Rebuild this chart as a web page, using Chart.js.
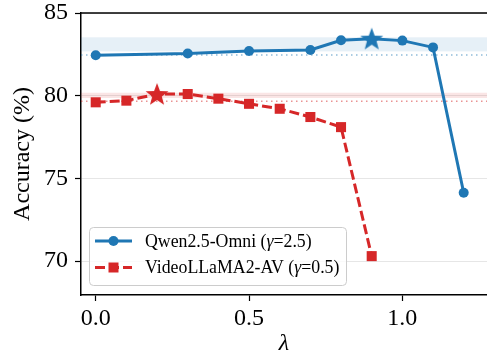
<!DOCTYPE html>
<html>
<head>
<meta charset="utf-8">
<script src="https://cdn.jsdelivr.net/npm/chart.js@4.4.1/dist/chart.umd.min.js"></script>
<style>
  html, body { margin: 0; padding: 0; background: #fff; }
  #wrap { width: 487px; height: 358px; position: relative; }
</style>
</head>
<body>
<div id="wrap"><canvas id="accChart"></canvas></div>
<script>
// --- Data ---
const lambdaQwen = [0, 0.3, 0.5, 0.7, 0.8, 0.9, 1.0, 1.1, 1.2];
const accQwen = [82.45, 82.55, 82.7, 82.76, 83.35, 83.45, 83.33, 82.92, 74.13];
const bestQwen = 5;

const lambdaVL = [0, 0.1, 0.2, 0.3, 0.4, 0.5, 0.6, 0.7, 0.8, 0.9];
const accVL = [79.6, 79.7, 80.1, 80.1, 79.82, 79.51, 79.21, 78.71, 78.1, 70.3];
const bestVL = 2;

// shaded bands and dotted baselines
const bandQwen = [82.68, 83.53];
const baseQwen = 82.46;
const bandVL = [79.86, 80.18];
const baseVL = 79.66;

const seriesNames = ['Qwen2.5-Omni', 'VideoLLaMA2-AV'];
const seriesGammas = ['2.5', '0.5'];

const xTicks = [0, 0.5, 1.0];
const yTicks = [70, 75, 80, 85];

const BLUE = '#1f77b4';
const RED = '#d62728';
const SERIF = "'Liberation Serif', 'Times New Roman', serif";

// filled star marker as an image
function makeStar(color, r) {
  const c = document.createElement('canvas');
  const s = Math.ceil(r * 2 + 2);
  c.width = s; c.height = s;
  const g = c.getContext('2d');
  g.fillStyle = color;
  g.beginPath();
  for (let i = 0; i < 10; i++) {
    const rad = i % 2 === 0 ? r : r * 0.42;
    const a = -Math.PI / 2 + i * Math.PI / 5;
    const px = s / 2 + rad * Math.cos(a);
    const py = s / 2 + 1 + rad * Math.sin(a);
    if (i === 0) g.moveTo(px, py); else g.lineTo(px, py);
  }
  g.closePath();
  g.fill();
  return c;
}
const starBlue = makeStar(BLUE, 12);
const starRed = makeStar(RED, 12);

const qwenPoints = lambdaQwen.map((x, i) => ({ x: x, y: accQwen[i] }));
const vlPoints = lambdaVL.map((x, i) => ({ x: x, y: accVL[i] }));

// --- Bands, baselines, top spine, legend ---
const decorPlugin = {
  id: 'decor',
  beforeDatasetsDraw(chart) {
    const { ctx, chartArea: a, scales: { y } } = chart;
    ctx.save();
    ctx.beginPath();
    ctx.rect(a.left, a.top, a.right - a.left, a.bottom - a.top);
    ctx.clip();
    const bands = [[bandQwen, 'rgba(31,119,180,0.11)'], [bandVL, 'rgba(214,39,40,0.12)']];
    bands.forEach(([b, col]) => {
      const y1 = y.getPixelForValue(b[1]);
      const y0 = y.getPixelForValue(b[0]);
      ctx.fillStyle = col;
      ctx.fillRect(a.left, y1, a.right - a.left, y0 - y1);
    });
    const bases = [[baseQwen, 'rgba(31,119,180,0.5)'], [baseVL, 'rgba(214,39,40,0.5)']];
    bases.forEach(([v, col]) => {
      const py = y.getPixelForValue(v);
      ctx.strokeStyle = col;
      ctx.lineWidth = 1.5;
      ctx.setLineDash([1.5, 3.5]);
      ctx.beginPath();
      ctx.moveTo(a.left, py);
      ctx.lineTo(a.right, py);
      ctx.stroke();
    });
    ctx.restore();
  },
  afterDraw(chart) {
    const { ctx, chartArea: a } = chart;
    ctx.save();
    // top spine
    ctx.strokeStyle = '#000';
    ctx.lineWidth = 1.5;
    ctx.beginPath();
    ctx.moveTo(a.left - 0.75, a.top);
    ctx.lineTo(a.right, a.top);
    ctx.stroke();

    // legend
    const lx = 89.5, ly = 227.5, lw = 257, lh = 58;
    ctx.fillStyle = 'rgba(255,255,255,0.8)';
    ctx.strokeStyle = '#cccccc';
    ctx.lineWidth = 1;
    ctx.beginPath();
    ctx.roundRect(lx, ly, lw, lh, 4);
    ctx.fill();
    ctx.stroke();

    const rows = [
      { color: BLUE, dash: [], marker: 'circle', y: 241 },
      { color: RED, dash: [10, 4], marker: 'rect', y: 267.5 }
    ];
    rows.forEach((r, i) => {
      ctx.strokeStyle = r.color;
      ctx.fillStyle = r.color;
      ctx.lineWidth = 3;
      ctx.setLineDash(r.dash);
      ctx.beginPath();
      ctx.moveTo(95, r.y);
      ctx.lineTo(132, r.y);
      ctx.stroke();
      ctx.setLineDash([]);
      ctx.beginPath();
      if (r.marker === 'circle') ctx.arc(113.5, r.y, 5, 0, Math.PI * 2);
      else ctx.rect(108.5, r.y - 5, 10, 10);
      ctx.fill();

      // text with italic gamma
      ctx.fillStyle = '#000';
      ctx.textBaseline = 'middle';
      let tx = 145;
      const parts = [
        [seriesNames[i] + ' (', 'normal'],
        ['\u03b3', 'italic'],
        ['=' + seriesGammas[i] + ')', 'normal']
      ];
      parts.forEach(([t, st]) => {
        ctx.font = st + ' 17.8px ' + SERIF;
        ctx.fillText(t, tx, r.y + 1);
        tx += ctx.measureText(t).width;
      });
    });
    ctx.restore();
  }
};

new Chart(document.getElementById('accChart'), {
  type: 'line',
  data: {
    datasets: [
      {
        label: seriesNames[0],
        data: qwenPoints,
        borderColor: BLUE,
        backgroundColor: BLUE,
        borderWidth: 3,
        pointStyle: qwenPoints.map((p, i) => i === bestQwen ? starBlue : 'circle'),
        pointRadius: 5,
        pointBorderWidth: 0,
        tension: 0,
        fill: false
      },
      {
        label: seriesNames[1],
        data: vlPoints,
        borderColor: RED,
        backgroundColor: RED,
        borderWidth: 3,
        borderDash: [10, 4],
        pointStyle: vlPoints.map((p, i) => i === bestVL ? starRed : 'rect'),
        pointRadius: 7.1,
        pointBorderWidth: 0,
        tension: 0,
        fill: false
      }
    ]
  },
  options: {
    responsive: true,
    maintainAspectRatio: false,
    animation: false,
    devicePixelRatio: 1,
    layout: { autoPadding: false, padding: { top: 13, right: 0, left: 0, bottom: 0 } },
    plugins: {
      legend: { display: false },
      tooltip: { enabled: false }
    },
    scales: {
      x: {
        type: 'linear',
        min: -0.048,
        max: 1.276,
        afterBuildTicks: (s) => { s.ticks = xTicks.map(v => ({ value: v })); },
        afterFit: (s) => { s.height = 63; s.paddingLeft = 0; s.paddingRight = 0; },
        border: { display: true, color: '#000', width: 1.5 },
        grid: { drawOnChartArea: false, drawTicks: true, tickLength: 6, tickColor: '#000', tickWidth: 1.2 },
        ticks: {
          color: '#000',
          padding: 3,
          font: { family: SERIF, size: 24 },
          callback: (v) => Number(v).toFixed(1)
        },
        title: {
          display: true,
          text: '\u03bb',
          color: '#000',
          font: { family: SERIF, size: 24, style: 'italic' },
          padding: { top: 0, bottom: 0 }
        }
      },
      y: {
        min: 67.95,
        max: 85,
        afterBuildTicks: (s) => { s.ticks = yTicks.map(v => ({ value: v })); },
        afterFit: (s) => { s.width = 81; s.paddingTop = 0; s.paddingBottom = 0; },
        border: { display: true, color: '#000', width: 1.5 },
        grid: { color: '#e6e6e6', lineWidth: 1, drawTicks: true, tickLength: 6, tickColor: '#000', tickWidth: 1.2 },
        ticks: {
          color: '#000',
          padding: 7,
          font: { family: SERIF, size: 24 }
        },
        title: {
          display: true,
          text: 'Accuracy (%)',
          color: '#000',
          font: { family: SERIF, size: 24 },
          padding: { top: 8, bottom: 0 }
        }
      }
    }
  },
  plugins: [decorPlugin]
});
</script>
</body>
</html>
